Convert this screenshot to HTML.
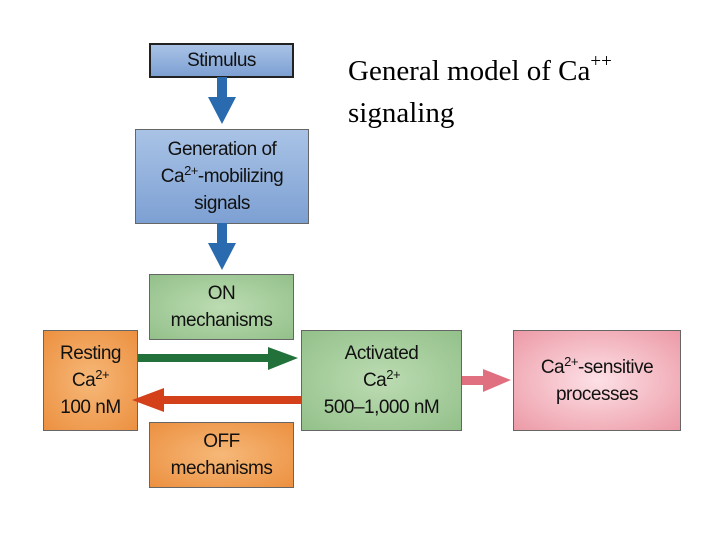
<!DOCTYPE html>
<html><head><style>
body{margin:0;width:720px;height:540px;background:#fff;position:relative;overflow:hidden;font-family:"Liberation Sans",sans-serif}
.b{position:absolute;box-sizing:border-box;border:1.5px solid #666;display:flex;align-items:center;justify-content:center;text-align:center;font-size:19px;line-height:27px;color:#111;letter-spacing:-0.5px}
.b>div{display:block}
.bl{background:linear-gradient(#a9c3e6,#7da0d3)}
.gr{background:radial-gradient(#bcdcb2,#93c08a)}
.or{background:radial-gradient(#f6b878,#ec9040)}
.pk{background:radial-gradient(#fde0e6,#ec9aa6)}
sup{font-size:13px;vertical-align:7px;line-height:0}
.t{position:absolute;left:348px;top:50px;font-family:"Liberation Serif",serif;font-size:29px;line-height:42px;color:#000}
</style></head><body>
<div class="b bl" style="left:149px;top:43px;width:145px;height:35px;border:2px solid #222"><div>Stimulus</div></div>
<div class="b bl" style="left:135px;top:129px;width:174px;height:95px"><div>Generation of<br>Ca<sup>2+</sup>-mobilizing<br>signals</div></div>
<div class="b gr" style="left:149px;top:274px;width:145px;height:66px"><div>ON<br>mechanisms</div></div>
<div class="b or" style="left:43px;top:330px;width:95px;height:101px"><div>Resting<br>Ca<sup>2+</sup><br>100 nM</div></div>
<div class="b gr" style="left:301px;top:330px;width:161px;height:101px"><div>Activated<br>Ca<sup>2+</sup><br>500–1,000 nM</div></div>
<div class="b pk" style="left:513px;top:330px;width:168px;height:101px"><div>Ca<sup>2+</sup>-sensitive<br>processes</div></div>
<div class="b or" style="left:149px;top:422px;width:145px;height:66px"><div>OFF<br>mechanisms</div></div>
<svg width="720" height="540" style="position:absolute;left:0;top:0">
<g fill="#2a6aae">
<rect x="217" y="77" width="10" height="22"/><polygon points="208,97 236,97 222,124"/>
<rect x="217" y="223" width="10" height="22"/><polygon points="208,243 236,243 222,270"/>
</g>
<rect x="138" y="354" width="134" height="8" fill="#22703a"/><polygon points="268,347 298,358 268,370" fill="#22703a"/>
<rect x="160" y="396" width="141" height="8" fill="#d4401a"/><polygon points="164,388 132,400 164,412" fill="#d4401a"/>
<rect x="462" y="376" width="24" height="9" fill="#e07080"/><polygon points="483,369 511,380 483,392" fill="#e07080"/>
</svg>
<div class="t">General model of Ca<span style="font-size:19px;vertical-align:13px;line-height:0">++</span><br>signaling</div>
</body></html>
